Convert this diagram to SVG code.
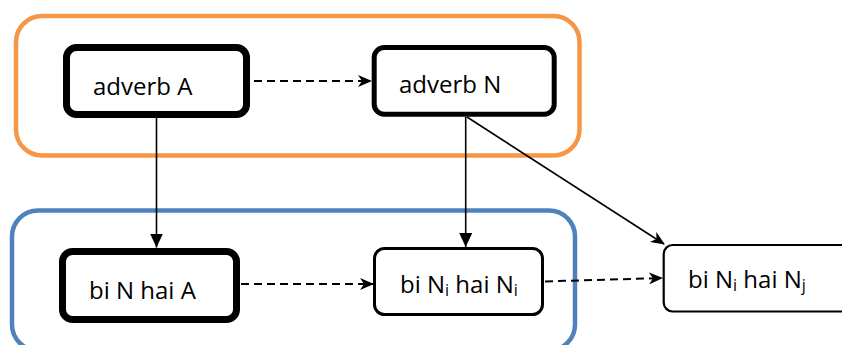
<svg xmlns="http://www.w3.org/2000/svg" width="842" height="345" viewBox="0 0 842 345">
  <style>
    .grp { fill: none; stroke-width: 4.5; }
    .node { fill: #ffffff; stroke: #000000; }
    .label { font-family: "Open Sans", "Liberation Sans", sans-serif; font-size: 24px; fill: #000000; }
    .sub { font-size: 16px; }
    .solid { stroke: #000000; stroke-width: 1.6; fill: none; }
    .dash { stroke: #000000; stroke-width: 2; fill: none; stroke-dasharray: 8 5; }
  </style>
  <defs>
    <marker id="stealth" markerUnits="userSpaceOnUse" viewBox="0 0 14 12" markerWidth="14" markerHeight="12" refX="13" refY="6" orient="auto">
      <path d="M0,0 L14,6 L0,12 L4,6 z" fill="#000000"/>
    </marker>
    <marker id="tri" markerUnits="userSpaceOnUse" viewBox="0 0 14 13" markerWidth="14" markerHeight="13" refX="14" refY="6.5" orient="auto">
      <path d="M0,0 L14,6.5 L0,13 z" fill="#000000"/>
    </marker>
    <marker id="otri" markerUnits="userSpaceOnUse" viewBox="0 0 15 16" markerWidth="15" markerHeight="16" refX="15" refY="8" orient="auto">
      <path d="M0,0 L15,8 L0,16 z" fill="#F79646"/>
    </marker>
    <filter id="shadow" x="-50%" y="-50%" width="200%" height="200%">
      <feGaussianBlur in="SourceAlpha" stdDeviation="1.5"/>
      <feOffset dx="1" dy="2" result="b"/>
      <feComponentTransfer><feFuncA type="linear" slope="0.3"/></feComponentTransfer>
      <feMerge><feMergeNode/><feMergeNode in="SourceGraphic"/></feMerge>
    </filter>
  </defs>

  <g id="group-orange">
    <rect class="grp" x="16" y="16" width="563.5" height="139.5" rx="26" ry="26" stroke="#F79646"/>
  </g>
  <g id="group-blue">
    <rect class="grp" x="12" y="210.5" width="563" height="140" rx="26" ry="26" stroke="#4F81BD"/>
  </g>

  <g id="connectors">
    <line class="dash" x1="254" y1="81" x2="371" y2="81" marker-end="url(#stealth)"/>
    <line class="dash" x1="241" y1="284" x2="373" y2="284" marker-end="url(#stealth)"/>
    <line class="dash" x1="545" y1="281.5" x2="662" y2="278" marker-end="url(#stealth)"/>
    <line class="solid" x1="156.5" y1="118" x2="156.5" y2="247.5" marker-end="url(#tri)"/>
    <line class="solid" x1="465.7" y1="117" x2="465.7" y2="247" marker-end="url(#tri)"/>
    <line class="solid" x1="467" y1="117" x2="664" y2="244" marker-end="url(#stealth)"/>
    <line x1="312.7" y1="157" x2="312.7" y2="213" stroke="#F79646" stroke-width="4.5" marker-end="url(#otri)" filter="url(#shadow)"/>
  </g>

  <g id="node-adverb-a">
    <rect class="node" x="66.5" y="47.5" width="180" height="67" rx="10" ry="10" stroke-width="7"/>
    <text class="label" x="93" y="95">adverb A</text>
  </g>
  <g id="node-adverb-n">
    <rect class="node" x="374.2" y="47.5" width="180" height="66.7" rx="10" ry="10" stroke-width="5"/>
    <text class="label" x="399" y="93">adverb N</text>
  </g>
  <g id="node-bi-n-hai-a">
    <rect class="node" x="62.5" y="251.5" width="174" height="68" rx="10" ry="10" stroke-width="7"/>
    <text class="label" x="89" y="299">bi N hai A</text>
  </g>
  <g id="node-bi-ni-hai-ni">
    <rect class="node" x="374.5" y="248.5" width="168" height="66" rx="10" ry="10" stroke-width="3"/>
    <text class="label" x="400" y="293">bi N<tspan class="sub" dy="3">i</tspan><tspan dy="-3"> hai N</tspan><tspan class="sub" dy="3">i</tspan></text>
  </g>
  <g id="node-bi-ni-hai-nj">
    <rect class="node" x="663.7" y="245" width="190" height="66.5" rx="9" ry="9" stroke-width="2.2"/>
    <text class="label" x="688" y="288">bi N<tspan class="sub" dy="3">i</tspan><tspan dy="-3"> hai N</tspan><tspan class="sub" dy="3">j</tspan></text>
  </g>
</svg>
